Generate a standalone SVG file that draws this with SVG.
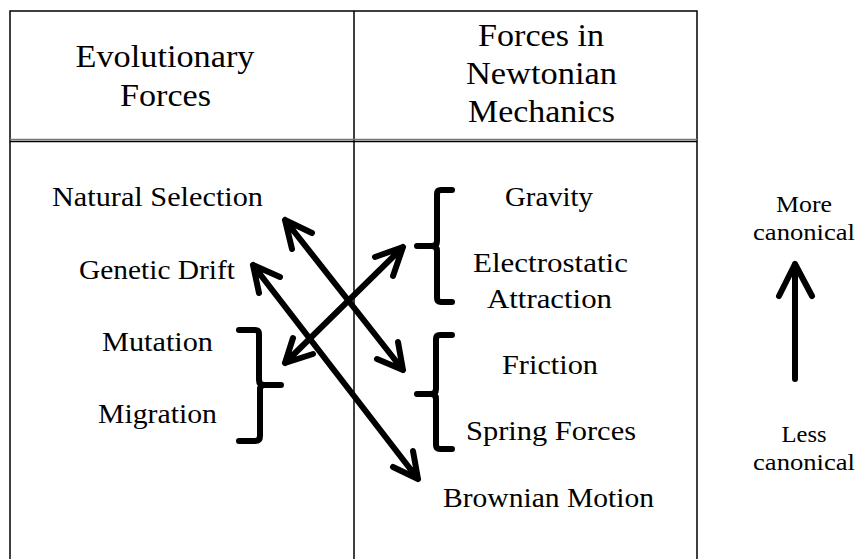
<svg xmlns="http://www.w3.org/2000/svg" width="858" height="559" viewBox="0 0 858 559">
<style>
.t{font-family:"Liberation Serif","Times New Roman",serif;fill:#000;text-anchor:middle}
.h{font-size:31px}
.b{font-size:27px}
.s{font-size:23px}
.grid{stroke:#000;stroke-width:1.5;fill:none}
.br{stroke:#000;stroke-width:6;fill:none;stroke-linecap:round;stroke-linejoin:round}
.ar{stroke:#000;stroke-width:6;fill:none;stroke-linecap:round;stroke-linejoin:round}
</style>
<g id="table">
<path class="grid" d="M10,559 V11 H697 V559 M354,11 V559"/>
<line x1="10" y1="139.5" x2="697" y2="139.5" stroke="#777" stroke-width="1.5"/>
<line x1="10" y1="141.5" x2="697" y2="141.5" stroke="#000" stroke-width="1.5"/>
</g>
<g id="header-left">
<text class="t h" x="165" y="67" textLength="179" lengthAdjust="spacingAndGlyphs">Evolutionary</text>
<text class="t h" x="165.5" y="106" textLength="91" lengthAdjust="spacingAndGlyphs">Forces</text>
</g>
<g id="header-right">
<text class="t h" x="541" y="46" textLength="126" lengthAdjust="spacingAndGlyphs">Forces in</text>
<text class="t h" x="541.5" y="84" textLength="151" lengthAdjust="spacingAndGlyphs">Newtonian</text>
<text class="t h" x="541.5" y="122" textLength="147" lengthAdjust="spacingAndGlyphs">Mechanics</text>
</g>
<g id="natural-selection"><text class="t b" x="157.5" y="206" textLength="211" lengthAdjust="spacingAndGlyphs">Natural Selection</text></g>
<g id="genetic-drift"><text class="t b" x="157" y="279" textLength="156" lengthAdjust="spacingAndGlyphs">Genetic Drift</text></g>
<g id="mutation"><text class="t b" x="157.5" y="351" textLength="111" lengthAdjust="spacingAndGlyphs">Mutation</text></g>
<g id="migration"><text class="t b" x="157.5" y="423" textLength="119" lengthAdjust="spacingAndGlyphs">Migration</text></g>
<g id="gravity"><text class="t b" x="549" y="206" textLength="88" lengthAdjust="spacingAndGlyphs">Gravity</text></g>
<g id="electrostatic">
<text class="t b" x="550.5" y="272" textLength="155" lengthAdjust="spacingAndGlyphs">Electrostatic</text>
<text class="t b" x="549.5" y="308" textLength="125" lengthAdjust="spacingAndGlyphs">Attraction</text>
</g>
<g id="friction"><text class="t b" x="550" y="374" textLength="96" lengthAdjust="spacingAndGlyphs">Friction</text></g>
<g id="spring-forces"><text class="t b" x="551" y="440" textLength="170" lengthAdjust="spacingAndGlyphs">Spring Forces</text></g>
<g id="brownian-motion"><text class="t b" x="548.5" y="507" textLength="211" lengthAdjust="spacingAndGlyphs">Brownian Motion</text></g>
<g id="more-canonical">
<text class="t s" x="804" y="212" textLength="56" lengthAdjust="spacingAndGlyphs">More</text>
<text class="t s" x="804" y="240" textLength="102" lengthAdjust="spacingAndGlyphs">canonical</text>
</g>
<g id="less-canonical">
<text class="t s" x="804" y="442" textLength="45" lengthAdjust="spacingAndGlyphs">Less</text>
<text class="t s" x="804" y="470" textLength="102" lengthAdjust="spacingAndGlyphs">canonical</text>
</g>
<g id="bracket-left">
<path class="br" d="M239,330 H255 Q259,330 259,334 V380 Q259,385 264,385 H281 M264,385 Q260,385 260,390 V436 Q260,441 255,441 H239"/>
</g>
<g id="bracket-gravity">
<path class="br" d="M452,190 H441 Q437,190 437,194 V241 Q437,246 432,246 H417 M432,246 Q437,246 437,251 V298 Q437,302 441,302 H452"/>
</g>
<g id="bracket-friction">
<path class="br" d="M452,335 H440 Q436,335 436,339 V389 Q436,394 431,394 H417 M431,394 Q436,394 436,399 V445 Q436,449 440,449 H452"/>
</g>
<g id="connectors">
<path class="ar" d="M285,220 L403,370 M312,233 L285,220 L292,249 M377,359 L403,370 L398,342"/>
<path class="ar" d="M253,265 L418,479 M280,277 L253,265 L259,293 M393,467 L418,479 L413,451"/>
<path class="ar" d="M403,247 L285,363 M375,257 L403,247 L393,276 M313,354 L285,363 L293,338"/>
<path class="ar" d="M795,379 V264 M779,296 L795,264 L812,296"/>
</g>
</svg>
